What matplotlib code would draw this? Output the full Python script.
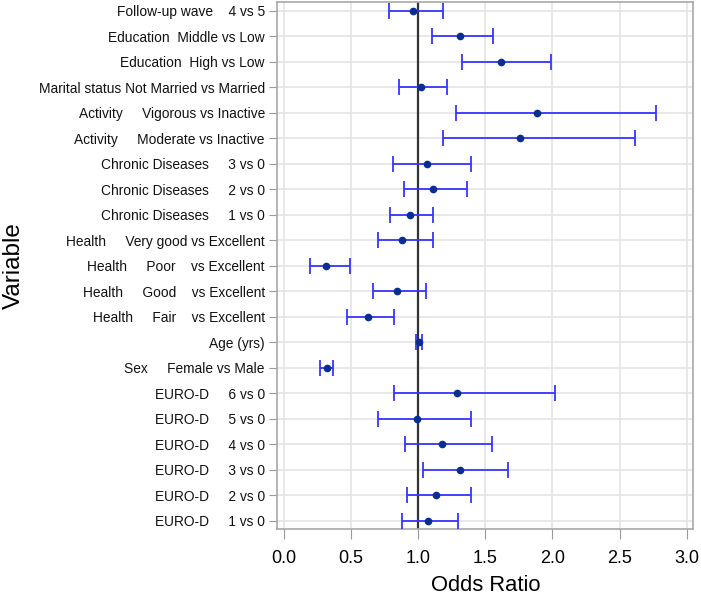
import matplotlib.pyplot as plt

plt.rcParams['font.family'] = ['Liberation Sans', 'DejaVu Sans']

labels = [
    "Follow-up wave    4 vs 5",
    "Education  Middle vs Low",
    "Education  High vs Low",
    "Marital status Not Married vs Married",
    "Activity     Vigorous vs Inactive",
    "Activity     Moderate vs Inactive",
    "Chronic Diseases     3 vs 0",
    "Chronic Diseases     2 vs 0",
    "Chronic Diseases     1 vs 0",
    "Health     Very good vs Excellent",
    "Health     Poor    vs Excellent",
    "Health     Good    vs Excellent",
    "Health     Fair    vs Excellent",
    "Age (yrs)",
    "Sex     Female vs Male",
    "EURO-D     6 vs 0",
    "EURO-D     5 vs 0",
    "EURO-D     4 vs 0",
    "EURO-D     3 vs 0",
    "EURO-D     2 vs 0",
    "EURO-D     1 vs 0",
]
odds = [0.965, 1.314, 1.621, 1.020, 1.888, 1.757, 1.064, 1.109, 0.938, 0.881,
        0.314, 0.841, 0.624, 1.010, 0.319, 1.287, 0.992, 1.178, 1.316, 1.131, 1.074]
lower = [0.787, 1.104, 1.324, 0.859, 1.284, 1.185, 0.812, 0.898, 0.792, 0.705,
         0.198, 0.668, 0.473, 0.987, 0.272, 0.822, 0.705, 0.901, 1.039, 0.916, 0.883]
upper = [1.183, 1.559, 1.987, 1.218, 2.769, 2.613, 1.396, 1.366, 1.109, 1.109,
         0.490, 1.059, 0.824, 1.032, 0.366, 2.019, 1.391, 1.549, 1.670, 1.396, 1.297]

ypos = list(range(len(labels)))
err_lo = [o - l for o, l in zip(odds, lower)]
err_hi = [u - o for o, u in zip(odds, upper)]

fig = plt.figure(figsize=(7.01, 5.99), dpi=100)
ax = fig.add_axes([0.3956, 0.1164, 0.5934, 0.8803])

ax.grid(True, color='#e4e4e4', linewidth=1.2, zorder=0)
ax.set_axisbelow(True)
ax.axvline(1.0, color='#333333', linewidth=1.6, zorder=2)
ax.errorbar(odds, ypos, xerr=[err_lo, err_hi], fmt='none', ecolor='#3535ff',
            elinewidth=1.3, capsize=6, capthick=1.3, zorder=3)
ax.plot(odds, ypos, 'o', color='#0a2d94', markersize=4.5, zorder=4)

ax.set_xlim(-0.0476, 3.049)
ax.set_ylim(20.34, -0.35)
ax.set_yticks(ypos)
ax.set_yticklabels(labels, fontsize=9.9, color='#111111')
ax.set_xticks([0.0, 0.5, 1.0, 1.5, 2.0, 2.5, 3.0])
ax.set_xticklabels(['0.0', '0.5', '1.0', '1.5', '2.0', '2.5', '3.0'], fontsize=13)
ax.tick_params(axis='y', length=6, color='#999999', pad=3)
ax.tick_params(axis='x', length=7, color='#999999', pad=8)
for s in ax.spines.values():
    s.set_color('#a8a8a8')
    s.set_linewidth(1.2)

ax.set_xlabel('Odds Ratio', fontsize=15.8, labelpad=6)
ax.set_ylabel('Variable', fontsize=17.5)
ax.yaxis.set_label_coords(-0.606, 0.5)

fig.savefig('out.png', dpi=100)
